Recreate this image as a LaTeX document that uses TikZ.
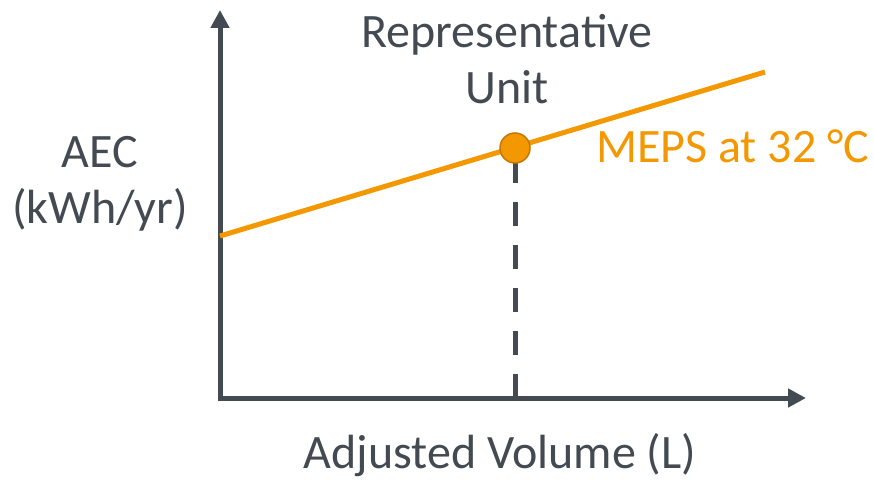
\documentclass[tikz,border=0pt]{standalone}
\usepackage{fontspec}
\setmainfont{Carlito}
\usetikzlibrary{arrows.meta}
\definecolor{axisgray}{RGB}{68,74,82}
\definecolor{meps}{RGB}{243,152,0}
\definecolor{mepsdark}{RGB}{196,120,0}
\tikzset{
  axisline/.style={draw=axisgray, line width=5pt, {Triangle[length=18pt,width=18pt]}-{Triangle[length=18pt,width=18pt]}},
  mepsline/.style={draw=meps, line width=5pt},
  guide/.style={draw=axisgray, line width=5pt, dash pattern=on 24pt off 19pt},
  repdot/.style={circle, fill=meps, draw=mepsdark, line width=1.5pt, minimum size=30pt, inner sep=0pt},
  lbl/.style={font=\fontsize{48}{56}\selectfont, text=axisgray, inner sep=0pt, align=center},
}
\begin{document}
\begin{tikzpicture}[x=1pt,y=-1pt]
\useasboundingbox (0,0) rectangle (874,481);
\coordinate (ytip) at (220,10);
\coordinate (O) at (220,398);
\coordinate (xtip) at (806,398);
\coordinate (foot) at (515,398);
\coordinate (L0) at (220,236);
\coordinate (L1) at (765,72);
\path[axisline] (ytip) -- (O) -- (xtip);
\path[mepsline] (L0) -- (L1);
\node[repdot, draw=none, fill=none] (rep) at (515,148) {};
\path[guide] (foot) -- (rep.center);
\node[repdot] at (rep.center) {};
\node[lbl, anchor=base] (title) at (507,104) {Representative\\Unit};
\node[lbl, anchor=base west, text=meps] (mepslbl) at (596,163) {MEPS at 32 °C};
\node[lbl, anchor=base] (ylbl) at (100,223) {AEC\\(kWh/yr)};
\node[lbl, anchor=base] (xlbl) at (500,468) {Adjusted Volume (L)};
\end{tikzpicture}
\end{document}
